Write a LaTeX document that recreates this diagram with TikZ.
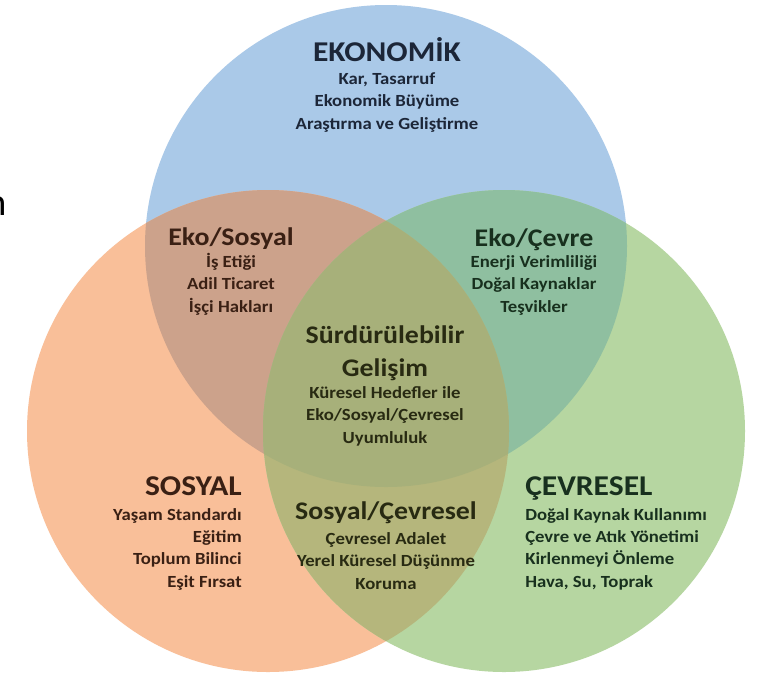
\documentclass[tikz,border=0pt]{standalone}
\usepackage{fontspec}
\setmainfont{Carlito}[FakeStretch=1.1]
\newfontfamily\cutfont{Carlito}

\definecolor{ekoblue}{RGB}{170,201,232}
\definecolor{sosorange}{RGB}{249,191,153}
\definecolor{cevgreen}{RGB}{182,214,161}
\definecolor{ekosos}{RGB}{204,162,139}
\definecolor{ekocev}{RGB}{143,191,160}
\definecolor{soscev}{RGB}{181,182,124}
\definecolor{allthree}{RGB}{167,176,122}
\definecolor{ekotext}{RGB}{28,38,56}
\definecolor{sostext}{RGB}{58,32,20}
\definecolor{cevtext}{RGB}{24,48,30}
\definecolor{midtext}{RGB}{40,42,18}

\begin{document}
\begin{tikzpicture}[x=0.75pt,y=-0.75pt,
	head/.style={font=\bfseries\fontsize{21.5}{26}\selectfont, inner sep=0pt, anchor=base},
	subhead/.style={font=\bfseries\fontsize{19}{24.75}\selectfont, inner sep=0pt, anchor=base, align=center},
	items/.style={font=\bfseries\fontsize{12.75}{16.6}\selectfont, inner sep=0pt, anchor=base, align=center}]
		\useasboundingbox (0,0) rectangle (764,679);
		\fill[white] (0,0) rectangle (764,679);
		
		\coordinate (eko) at (386,246);
		\coordinate (sos) at (268,431);
		\coordinate (cev) at (504,431);
		
		\fill[ekoblue] (eko) circle (241);
		\fill[sosorange] (sos) circle (241);
		\fill[cevgreen] (cev) circle (241);
		\begin{scope}
			\clip (eko) circle (241);
			\fill[ekosos] (sos) circle (241);
			\fill[ekocev] (cev) circle (241);
		\end{scope}
		\begin{scope}
			\clip (sos) circle (241);
			\fill[soscev] (cev) circle (241);
			\clip (cev) circle (241);
			\fill[allthree] (eko) circle (241);
		\end{scope}
		
		% anchor=base sits on the last line
		\node[head, text=ekotext] (ekohead) at (387,61) {EKONOMİK};
		\node[items, text=ekotext] (ekoitems) at (387,129) {Kar, Tasarruf\\Ekonomik Büyüme\\Araştırma ve Geliştirme};
		
		\node[subhead, text=sostext] (ekososhead) at (231,245) {Eko/Sosyal};
		\node[items, text=sostext] (ekosositems) at (231,312) {İş Etiği\\Adil Ticaret\\İşçi Hakları};
		
		\node[subhead, text=cevtext] (ekocevhead) at (534,246) {Eko/Çevre};
		\node[items, text=cevtext] (ekocevitems) at (534,312) {Enerji Verimliliği\\Doğal Kaynaklar\\Teşvikler};
		
		\node[subhead, text=midtext] (midhead) at (385,376) {Sürdürülebilir\\Gelişim};
		\node[items, text=midtext] (miditems) at (385,443) {Küresel Hedefler ile\\Eko/Sosyal/Çevresel\\Uyumluluk};
		
		\node[head, anchor=base east, text=sostext] (soshead) at (242,495) {SOSYAL};
		\node[items, anchor=base east, align=right, text=sostext] (sositems) at (242,587) {Yaşam Standardı\\Eğitim\\Toplum Bilinci\\Eşit Fırsat};
		
		\node[subhead, text=midtext] (soscevhead) at (386,519) {Sosyal/Çevresel};
		\node[items, text=midtext] (soscevitems) at (386,589) {Çevresel Adalet\\Yerel Küresel Düşünme\\Koruma};
		
		\node[head, anchor=base west, text=cevtext] (cevhead) at (525,495) {ÇEVRESEL};
		\node[items, anchor=base west, align=left, text=cevtext] (cevitems) at (525,587) {Doğal Kaynak Kullanımı\\Çevre ve Atık Yönetimi\\Kirlenmeyi Önleme\\Hava, Su, Toprak};
		
		\node[inner sep=0pt, anchor=base west, font=\cutfont\fontsize{29}{29}\selectfont] (cutletter) at (-14,215) {n};
	\end{tikzpicture}
\end{document}
